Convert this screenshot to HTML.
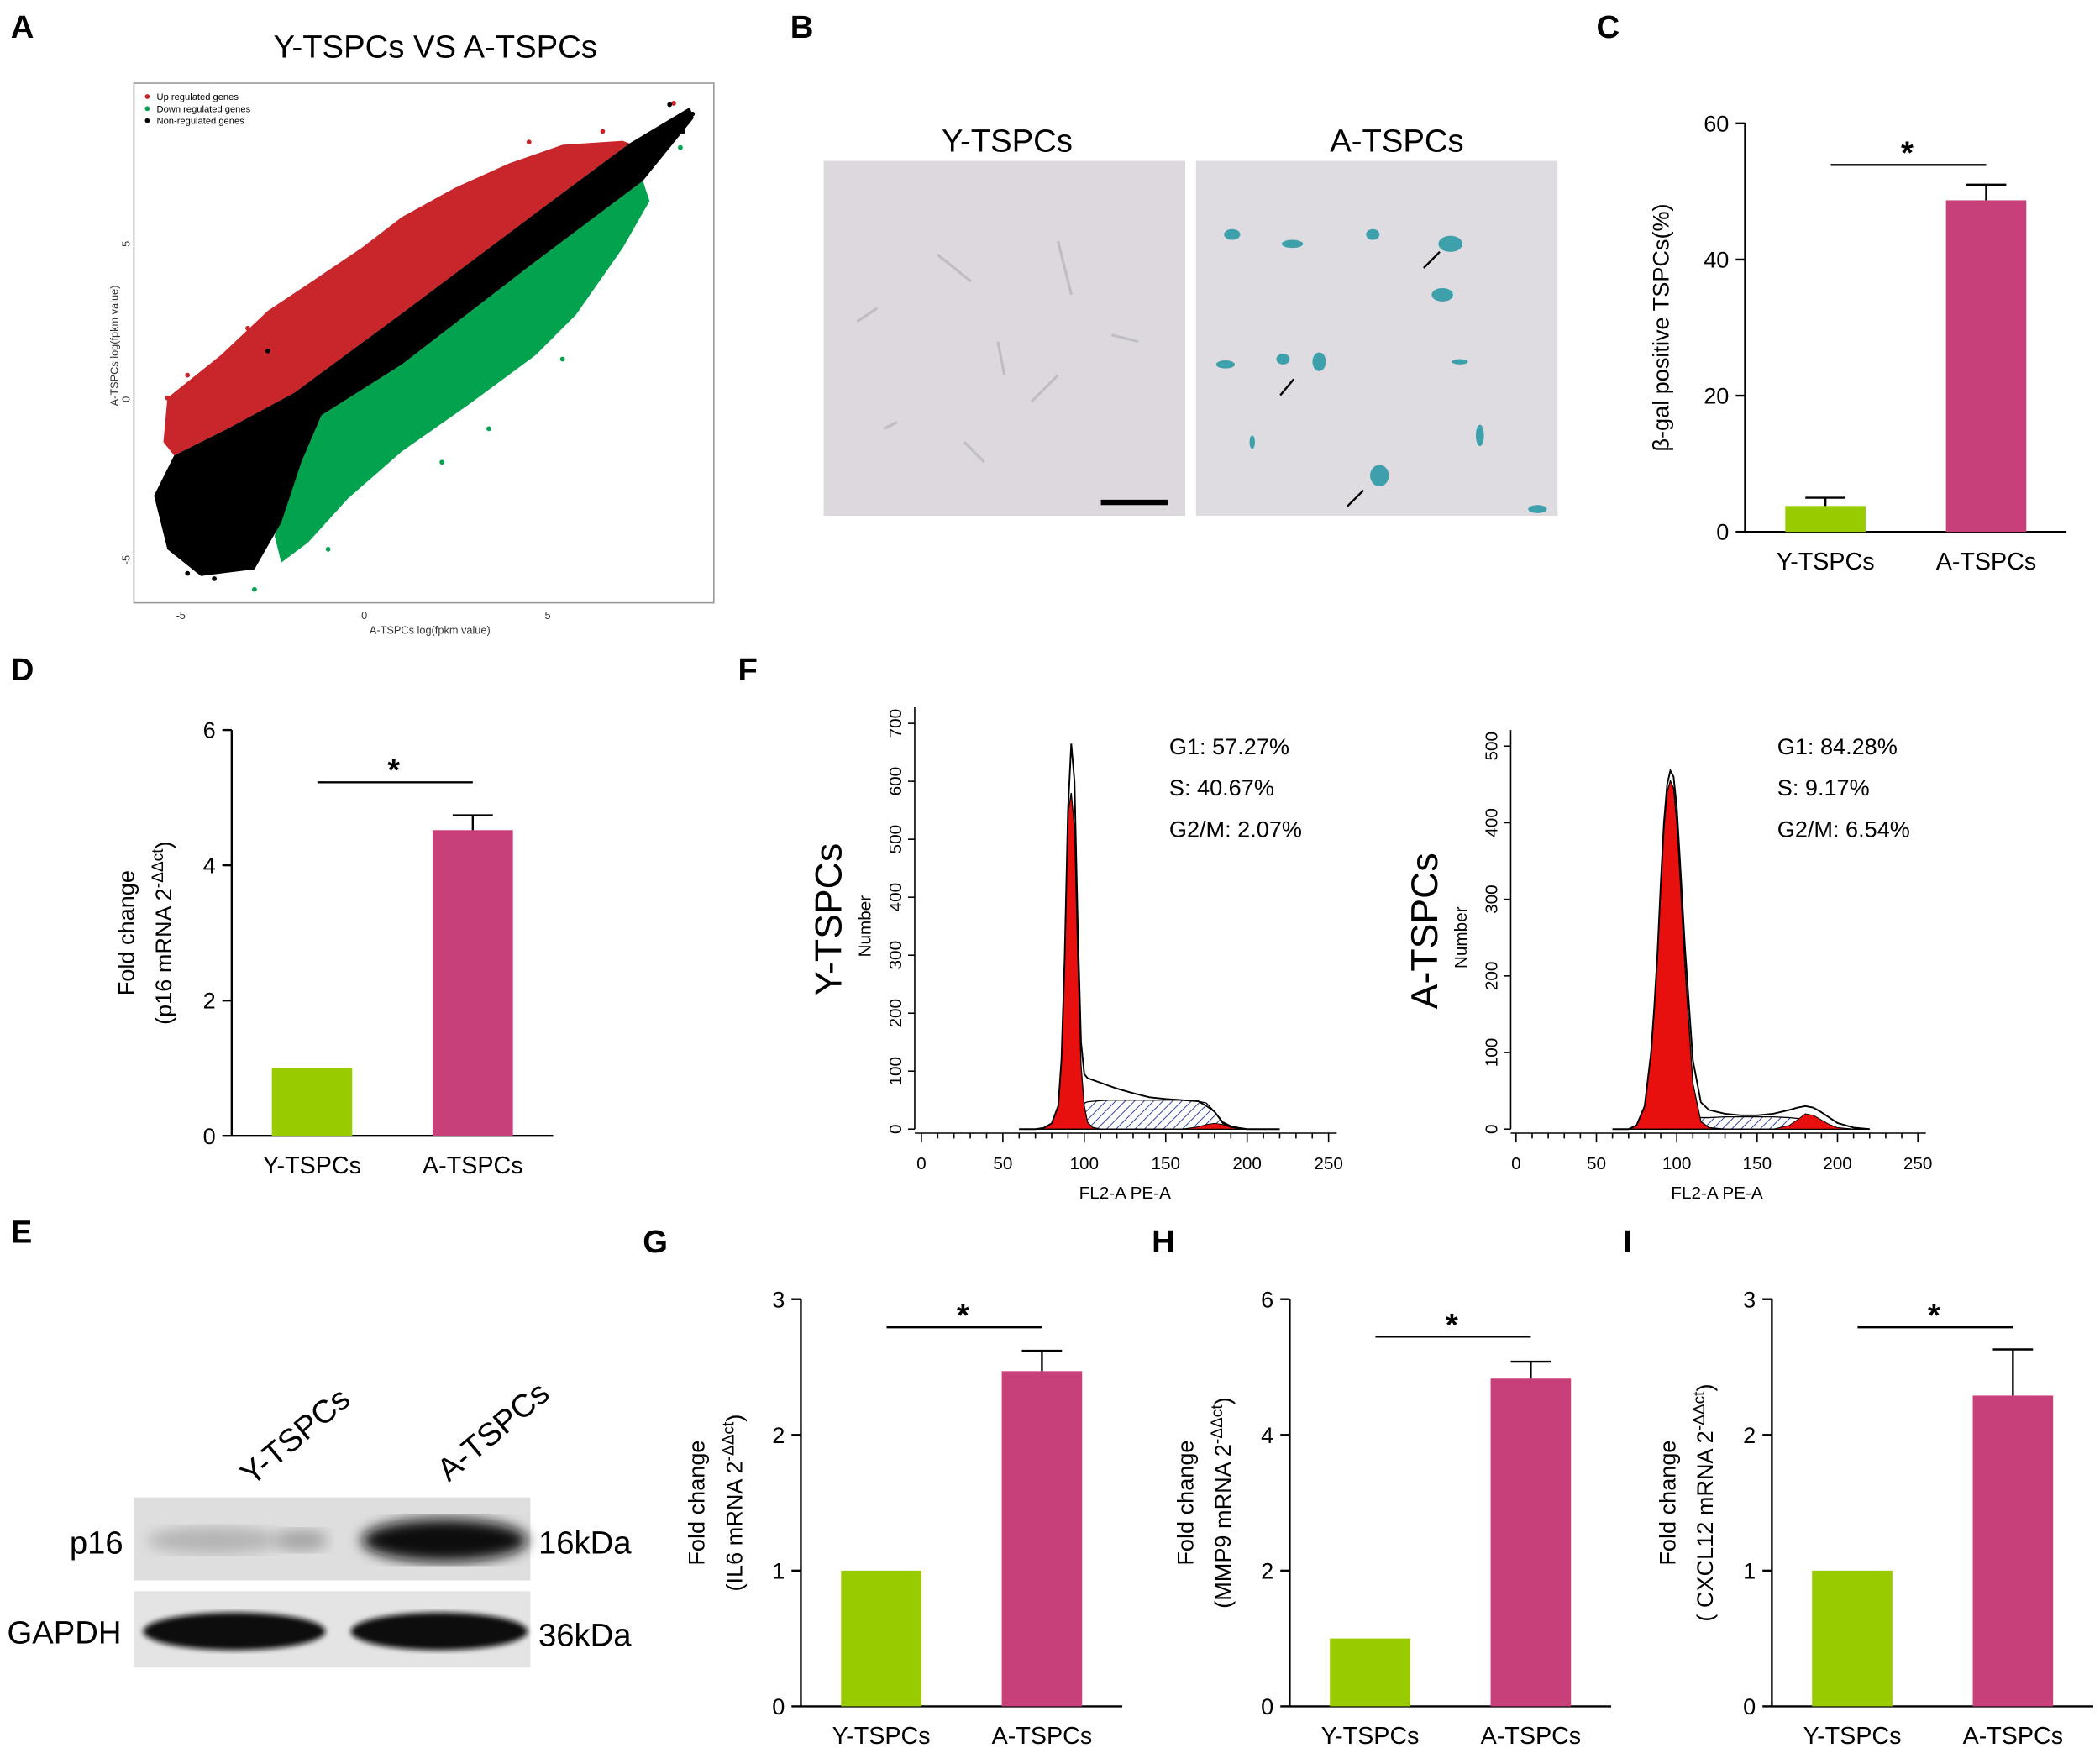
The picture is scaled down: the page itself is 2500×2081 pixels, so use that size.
<!DOCTYPE html>
<html><head><meta charset="utf-8">
<style>
html,body{margin:0;padding:0;background:#fff}
svg{display:block}
text{font-family:"Liberation Sans",Arial,sans-serif}
</style></head>
<body>
<svg id="fig" xmlns="http://www.w3.org/2000/svg" width="2500" height="2081" viewBox="0 0 1568 1305">
<defs>
<pattern id="hatch" patternUnits="userSpaceOnUse" width="5" height="5" patternTransform="rotate(45)">
<rect width="5" height="5" fill="#fff"/><line x1="0" y1="0" x2="0" y2="5" stroke="#2a3aa0" stroke-width="1.2"/>
</pattern>
<filter id="blur4"><feGaussianBlur stdDeviation="5"/></filter>
<filter id="blur2"><feGaussianBlur stdDeviation="2"/></filter>
</defs>

<g font-size="24" font-weight="bold">
<text x="8" y="28">A</text><text x="590" y="28">B</text><text x="1192" y="28">C</text>
<text x="8" y="508">D</text><text x="551" y="508">F</text><text x="8" y="928">E</text>
<text x="480" y="935">G</text><text x="860" y="935">H</text><text x="1212" y="935">I</text>
</g>

<g>
<text x="325" y="43" font-size="24" text-anchor="middle">Y-TSPCs VS A-TSPCs</text>
<rect x="100" y="62" width="433" height="388" fill="none" stroke="#999" stroke-width="1"/>
<polygon fill="#c8262a" points="122,330 125,297 165,265 200,232 230,212 270,185 300,162 340,140 380,122 420,108 465,105 470,107 400,159 300,234 220,293 170,320 130,340"/>
<polygon fill="#03a24e" points="225,345 240,310 300,272 400,195 480,135 485,150 465,185 430,235 400,265 350,302 300,337 260,372 230,405 210,420 205,400"/>
<polygon fill="#000" points="115,370 130,340 170,320 220,293 300,234 400,159 470,107 515,80 518,88 480,135 400,195 300,272 240,310 225,345 210,390 190,425 150,430 125,410"/>
<g fill="#c8262a">
<circle cx="125" cy="297" r="1.8"/><circle cx="140" cy="280" r="1.8"/><circle cx="185" cy="245" r="1.8"/><circle cx="250" cy="205" r="1.8"/><circle cx="300" cy="175" r="1.8"/><circle cx="365" cy="150" r="1.8"/><circle cx="395" cy="106" r="1.8"/><circle cx="450" cy="98" r="1.8"/><circle cx="430" cy="110" r="1.8"/><circle cx="503" cy="77" r="1.8"/>
</g>
<g fill="#03a24e"><circle cx="245" cy="410" r="1.8"/><circle cx="330" cy="345" r="1.8"/><circle cx="365" cy="320" r="1.8"/><circle cx="420" cy="268" r="1.8"/><circle cx="455" cy="195" r="1.8"/><circle cx="470" cy="150" r="1.8"/><circle cx="508" cy="110" r="1.8"/><circle cx="190" cy="440" r="1.8"/></g>
<g fill="#000"><circle cx="120" cy="380" r="1.8"/><circle cx="140" cy="428" r="1.8"/><circle cx="160" cy="432" r="1.8"/><circle cx="500" cy="78" r="1.8"/><circle cx="517" cy="85" r="1.8"/><circle cx="495" cy="95" r="1.8"/><circle cx="510" cy="98" r="1.8"/><circle cx="200" cy="262" r="1.8"/></g>
<g font-size="7">
<circle cx="110" cy="72" r="1.8" fill="#c8262a"/><text x="117" y="74.5">Up regulated genes</text>
<circle cx="110" cy="81" r="1.8" fill="#03a24e"/><text x="117" y="83.5">Down regulated genes</text>
<circle cx="110" cy="90" r="1.8" fill="#000"/><text x="117" y="92.5">Non-regulated genes</text>
</g>
<g font-size="8" fill="#333" text-anchor="middle">
<text x="135" y="462">-5</text><text x="272" y="462">0</text><text x="409" y="462">5</text>
<text x="321" y="473">A-TSPCs log(fpkm value)</text>
<text transform="translate(97,182) rotate(-90)">5</text><text transform="translate(97,298) rotate(-90)">0</text><text transform="translate(97,418) rotate(-90)">-5</text>
<text transform="translate(88,258) rotate(-90)">A-TSPCs log(fpkm value)</text>
</g>
</g>

<g>
<text x="752" y="113" font-size="24" text-anchor="middle">Y-TSPCs</text>
<text x="1043" y="113" font-size="24" text-anchor="middle">A-TSPCs</text>
<rect x="615" y="120" width="270" height="265" fill="#dcd8de"/>
<rect x="893" y="120" width="270" height="265" fill="#dedbe1"/>
<g stroke="#b9b6c0" stroke-width="2" fill="none" opacity="0.8">
<path d="M790,180 l10,40"/><path d="M640,240 l15,-10"/><path d="M700,190 l25,20"/><path d="M770,300 l20,-20"/><path d="M720,330 l15,15"/><path d="M660,320 l10,-5"/><path d="M830,250 l20,5"/><path d="M745,255 l5,25"/>
</g>
<line x1="822" y1="375" x2="872" y2="375" stroke="#000" stroke-width="4"/>
<g fill="#3da0aa">
<ellipse cx="920" cy="175" rx="6" ry="4"/><ellipse cx="965" cy="182" rx="8" ry="3"/><ellipse cx="1025" cy="175" rx="5" ry="4"/><ellipse cx="1083" cy="182" rx="9" ry="6"/><ellipse cx="1077" cy="220" rx="8" ry="5"/><ellipse cx="915" cy="272" rx="7" ry="3"/><ellipse cx="958" cy="268" rx="5" ry="4"/><ellipse cx="985" cy="270" rx="5" ry="7"/><ellipse cx="1030" cy="355" rx="7" ry="8"/><ellipse cx="1105" cy="325" rx="3" ry="8"/><ellipse cx="1090" cy="270" rx="6" ry="2"/><ellipse cx="1148" cy="380" rx="7" ry="3"/><ellipse cx="935" cy="330" rx="2" ry="5"/>
</g>
<g stroke="#000" stroke-width="1.5"><line x1="1063" y1="200" x2="1075" y2="188"/><line x1="956" y1="295" x2="966" y2="283"/><line x1="1006" y1="378" x2="1018" y2="366"/></g>
</g>

<g>
<text transform="translate(188,1110) rotate(-40)" font-size="24">Y-TSPCs</text>
<text transform="translate(335,1107) rotate(-40)" font-size="24">A-TSPCs</text>
<rect x="100" y="1118" width="296" height="62" fill="#dedede"/>
<rect x="100" y="1188" width="296" height="57" fill="#e4e4e4"/>
<ellipse cx="160" cy="1150" rx="50" ry="10" fill="#b5b5b5" filter="url(#blur4)"/>
<ellipse cx="225" cy="1150" rx="20" ry="8" fill="#a5a5a5" filter="url(#blur4)"/>
<ellipse cx="332" cy="1150" rx="62" ry="16" fill="#111" filter="url(#blur4)"/>
<ellipse cx="175" cy="1218" rx="68" ry="14" fill="#111" filter="url(#blur2)"/>
<ellipse cx="328" cy="1218" rx="66" ry="14" fill="#111" filter="url(#blur2)"/>
<text x="72" y="1160" font-size="24" text-anchor="middle">p16</text>
<text x="48" y="1227" font-size="24" text-anchor="middle">GAPDH</text>
<text x="402" y="1160" font-size="24">16kDa</text>
<text x="402" y="1229" font-size="24">36kDa</text>
</g>

<g id="charts"></g>
</svg>

<script>
const barCategories = ['Y-TSPCs','A-TSPCs'];
const cValues = [3.8, 48.7];
const cErrors = [5.0, 51.0];
const cTicks = [0, 20, 40, 60];
const dValues = [1, 4.52];
const dErrors = [1, 4.74];
const dTicks = [0, 2, 4, 6];
const gValues = [1, 2.47];
const gErrors = [1, 2.62];
const gTicks = [0, 1, 2, 3];
const hValues = [1, 4.83];
const hErrors = [1, 5.08];
const hTicks = [0, 2, 4, 6];
const iValues = [1, 2.29];
const iErrors = [1, 2.63];
const iTicks = [0, 1, 2, 3];

const flowChannels = [60,70,75,80,84,86,88,90,92,94,96,98,100,102,105,110,115,120,130,140,150,160,170,175,180,185,190,195,200,210,220];
const yTotal = [0,0,2,10,40,120,300,550,665,600,350,150,95,88,85,80,75,70,62,55,52,50,48,40,30,12,5,2,0,0,0];
const yG1 =    [0,0,2,10,40,120,300,545,580,520,300,110,40,12,3,0,0,0,0,0,0,0,0,0,0,0,0,0,0,0,0];
const yS =     [0,0,0,0,2,5,10,20,28,34,38,42,45,47,48,49,50,50,50,50,50,50,48,45,30,10,3,0,0,0,0];
const yG2 =    [0,0,0,0,0,0,0,0,0,0,0,0,0,0,0,0,0,0,0,0,0,0,4,8,10,8,3,1,0,0,0];
const aTotal = [0,0,5,30,100,160,230,320,400,450,468,460,420,350,240,90,35,25,20,18,18,20,25,28,30,28,22,15,8,2,0];
const aG1 =    [0,0,5,30,98,157,226,315,392,440,455,445,400,330,215,60,10,2,0,0,0,0,0,0,0,0,0,0,0,0,0];
const aS =     [0,0,0,0,1,2,3,4,5,6,7,8,9,10,12,14,15,15,16,16,16,16,15,14,12,8,5,2,1,0,0];
const aG2 =    [0,0,0,0,0,0,0,0,0,0,0,0,0,0,0,0,0,0,0,0,0,0,5,12,20,18,12,6,2,0,0];
const flowXTicks = [0,50,100,150,200,250];
const yFlowYTicks = [0,100,200,300,400,500,600,700];
const aFlowYTicks = [0,100,200,300,400,500];

const NS = 'http://www.w3.org/2000/svg';
const root = document.getElementById('charts');
function mk(tag, attrs, parent){
  const e = document.createElementNS(NS, tag);
  for (const k in attrs) e.setAttribute(k, attrs[k]);
  (parent||root).appendChild(e);
  return e;
}
function txt(s, attrs, parent){ const t = mk('text', attrs, parent); t.textContent = s; return t; }

function barChart(name, L, values, errors, ticks){
  const g = mk('g', {});
  
  
  const max = ticks[ticks.length-1];
  const y = v => L.y0 - (v/max)*(L.y0-L.yTop);
  mk('line',{x1:L.ax,y1:L.y0,x2:L.ax,y2:L.yTop,stroke:'#000','stroke-width':1.5},g);
  mk('line',{x1:L.ax,y1:L.y0,x2:L.ax+240,y2:L.y0,stroke:'#000','stroke-width':1.5},g);
  ticks.forEach(t=>{
    const yy = y(t);
    const tk = mk('line',{x1:L.ax-7,y1:yy,x2:L.ax,y2:yy,stroke:'#000','stroke-width':1.5},g);
    
    
    const tl = txt(String(t),{x:L.ax-12,y:yy+6,'font-size':17,'text-anchor':'end'},g);
    
    
  });
  const colors = ['#99cc00','#c8407a'];
  values.forEach((v,i)=>{
    const bx = L.ax + 30 + i*120;
    const b = mk('rect',{x:bx,y:y(v),width:60,height:L.y0-y(v),fill:colors[i]},g);
    
    
    if (errors[i] > v){
      const e1 = mk('line',{x1:bx+30,y1:y(v),x2:bx+30,y2:y(errors[i]),stroke:'#000','stroke-width':1.5},g);
      
      
      mk('line',{x1:bx+15,y1:y(errors[i]),x2:bx+45,y2:y(errors[i]),stroke:'#000','stroke-width':1.5},g);
    }
    const xl = txt(barCategories[i],{x:bx+30,y:L.y0+28,'font-size':18,'text-anchor':'middle'},g);
    
    
  });
  const sl = mk('line',{x1:L.ax+64,y1:L.sigY,x2:L.ax+180,y2:L.sigY,stroke:'#000','stroke-width':1.5},g);
  
  
  const st = txt('*',{x:L.ax+121,y:L.sigY-1,'font-size':24,'text-anchor':'middle','font-weight':'bold'},g);
  
  
  const cy = (L.y0+L.yTop)/2;
  L.titles.forEach(tt=>{
    const t = mk('text',{transform:`translate(${tt.x},${cy}) rotate(-90)`,'font-size':17,'text-anchor':'middle'},g);
    
    
    t.textContent = tt.s;
    if (tt.sup){ const sp = mk('tspan',{'baseline-shift':'super','font-size':12},t); sp.textContent = tt.sup; if (tt.tail){ const tl2=mk('tspan',{},t); tl2.textContent=tt.tail; } }
  });
}

barChart('panel-c-beta-gal-chart',{ax:1303,y0:397,yTop:92,sigY:123,titles:[{x:1246,s:'β-gal positive TSPCs(%)'}]},cValues,cErrors,cTicks);
barChart('panel-d-p16-chart',{ax:173,y0:848,yTop:545,sigY:584,titles:[{x:100,s:'Fold change'},{x:128,s:'(p16 mRNA 2',sup:'-ΔΔct',tail:')'}]},dValues,dErrors,dTicks);
barChart('panel-g-il6-chart',{ax:598,y0:1274,yTop:970,sigY:991,titles:[{x:526,s:'Fold change'},{x:554,s:'(IL6 mRNA 2',sup:'-ΔΔct',tail:')'}]},gValues,gErrors,gTicks);
barChart('panel-h-mmp9-chart',{ax:963,y0:1274,yTop:970,sigY:998,titles:[{x:891,s:'Fold change'},{x:919,s:'(MMP9 mRNA 2',sup:'-ΔΔct',tail:')'}]},hValues,hErrors,hTicks);
barChart('panel-i-cxcl12-chart',{ax:1323,y0:1274,yTop:970,sigY:991,titles:[{x:1251,s:'Fold change'},{x:1279,s:'( CXCL12 mRNA 2',sup:'-ΔΔct',tail:')'}]},iValues,iErrors,iTicks);

function flowChart(name, L, total, g1, s, g2, yTicks, stats){
  const g = mk('g', {});
  
  
  const ymax = yTicks[yTicks.length-1];
  const X = c => L.x0 + c*L.kx;
  const Y = v => L.y0 - (v/ymax)*(L.y0-L.yTop);
  const area = arr => {
    let d = `M${X(flowChannels[0])},${Y(0)}`;
    arr.forEach((v,i)=>{ d += ` L${X(flowChannels[i])},${Y(v)}`; });
    d += ` L${X(flowChannels[flowChannels.length-1])},${Y(0)} Z`;
    return d;
  };
  const sa = mk('path',{d:area(s),fill:'url(#hatch)',stroke:'#000','stroke-width':0.8},g);
  
  
  const ga = mk('path',{d:area(g1),fill:'#e8100f',stroke:'#000','stroke-width':0.8},g);
  
  
  const g2a = mk('path',{d:area(g2),fill:'#e8100f',stroke:'#000','stroke-width':0.6},g);
  
  
  const pts = total.map((v,i)=>`${X(flowChannels[i])},${Y(v)}`).join(' ');
  const tl = mk('polyline',{points:pts,fill:'none',stroke:'#000','stroke-width':1.2},g);
  
  
  mk('line',{x1:L.ax,y1:L.y0,x2:L.ax,y2:L.yTop-12,stroke:'#000','stroke-width':1},g);
  mk('line',{x1:L.ax,y1:L.y0+3,x2:X(255),y2:L.y0+3,stroke:'#000','stroke-width':1},g);
  yTicks.forEach(t=>{
    mk('line',{x1:L.ax-5,y1:Y(t),x2:L.ax,y2:Y(t),stroke:'#000'},g);
    const l = mk('text',{transform:`translate(${L.ax-10},${Y(t)}) rotate(-90)`,'font-size':13,'text-anchor':'middle'},g);
    
    
    l.textContent = String(t);
  });
  for (let c=0;c<=250;c+=10){ mk('line',{x1:X(c),y1:L.y0+3,x2:X(c),y2:L.y0+(c%50===0?10:7),stroke:'#000'},g); }
  flowXTicks.forEach(t=>{
    const l = txt(String(t),{x:X(t),y:L.y0+30,'font-size':13,'text-anchor':'middle'},g);
    
    
  });
  const xt = txt('FL2-A PE-A',{x:X(125),y:L.y0+52,'font-size':13,'text-anchor':'middle'},g);
  
  
  const yt = mk('text',{transform:`translate(${L.ax-33},${(L.y0+L.yTop)/2}) rotate(-90)`,'font-size':13,'text-anchor':'middle'},g);
  
  
  yt.textContent = 'Number';
  const bt = mk('text',{transform:`translate(${L.ax-55},${(L.y0+L.yTop)/2-5}) rotate(-90)`,'font-size':28,'text-anchor':'middle'},g);
  
  
  bt.textContent = L.label;
  stats.forEach((s,i)=>{
    const st = txt(s,{x:L.statX,y:563+i*31,'font-size':17},g);
    
    
  });
}
flowChart('panel-f-y-tspcs-histogram',{ax:683,x0:688,kx:1.216,y0:843,yTop:540,label:'Y-TSPCs',statX:873},yTotal,yG1,yS,yG2,yFlowYTicks,['G1: 57.27%','S: 40.67%','G2/M: 2.07%']);
flowChart('panel-f-a-tspcs-histogram',{ax:1128,x0:1132,kx:1.2,y0:843,yTop:557,label:'A-TSPCs',statX:1327},aTotal,aG1,aS,aG2,aFlowYTicks,['G1: 84.28%','S: 9.17%','G2/M: 6.54%']);
</script>
</body></html>
